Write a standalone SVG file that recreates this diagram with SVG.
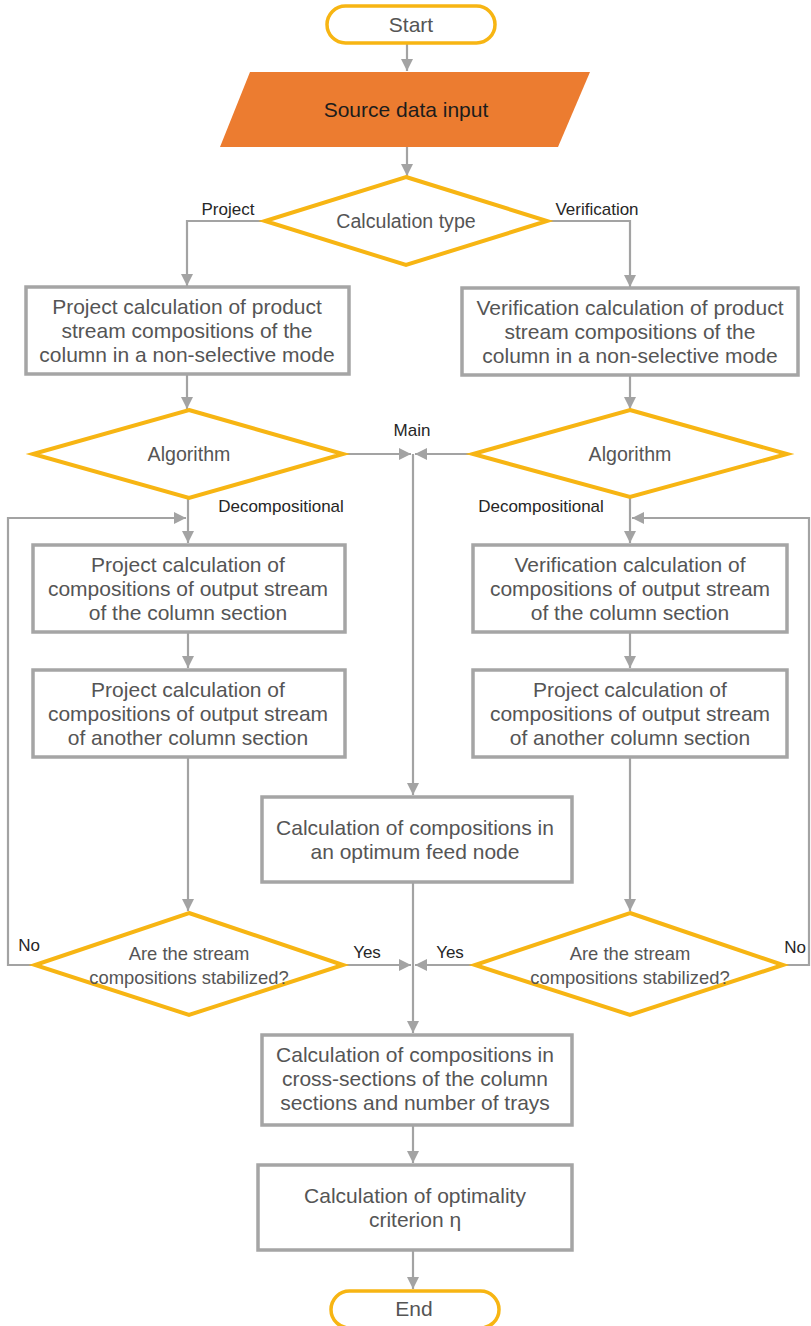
<svg xmlns="http://www.w3.org/2000/svg" width="811" height="1326" viewBox="0 0 811 1326">
  <defs>
    <marker id="arr" viewBox="0 0 12 12" refX="12" refY="6" markerWidth="12" markerHeight="12" markerUnits="userSpaceOnUse" orient="auto">
      <path d="M0,0 L12,6 L0,12 Z" fill="#a3a3a3"/>
    </marker>
    <style>
      .box { fill: #ffffff; stroke: #a5a5a5; stroke-width: 3.5; }
      .dia { fill: #ffffff; stroke: #f7b513; stroke-width: 4; stroke-linejoin: miter; }
      .pill { fill: #ffffff; stroke: #f7b513; stroke-width: 3.5; }
      .t { font-family: "Liberation Sans", Arial, sans-serif; font-size: 21px; fill: #555555; text-anchor: middle; }
      .d { font-family: "Liberation Sans", Arial, sans-serif; font-size: 18.4px; fill: #555555; text-anchor: middle; }
      .d1 { font-family: "Liberation Sans", Arial, sans-serif; font-size: 19.6px; fill: #555555; text-anchor: middle; }
      .lbl { font-family: "Liberation Sans", Arial, sans-serif; font-size: 17px; fill: #262626; text-anchor: middle; }
      .la { fill: none; stroke: #a3a3a3; stroke-width: 2.2; marker-end: url(#arr); }
    </style>
  </defs>
  <rect width="811" height="1326" fill="#ffffff"/>

  <!-- connectors -->
  <g id="connectors">
    <line class="la" x1="407" y1="43" x2="407" y2="71"/>
    <line class="la" x1="407" y1="147" x2="407" y2="176"/>
    <polyline class="la" points="265,221 187,221 187,286"/>
    <polyline class="la" points="547,221 630,221 630,287"/>
    <line class="la" x1="187" y1="374" x2="187" y2="409"/>
    <line class="la" x1="630" y1="375" x2="630" y2="409"/>
    <line class="la" x1="343" y1="454" x2="411" y2="454"/>
    <line class="la" x1="473" y1="454" x2="415" y2="454"/>
    <line class="la" x1="413" y1="454" x2="413" y2="795"/>
    <line class="la" x1="188" y1="498" x2="188" y2="543"/>
    <line class="la" x1="630" y1="497" x2="630" y2="543"/>
    <polyline class="la" points="35,965 8,965 8,518 186,518"/>
    <polyline class="la" points="783,965 809,965 809,518 632,518"/>
    <line class="la" x1="188" y1="632" x2="188" y2="668"/>
    <line class="la" x1="630" y1="632" x2="630" y2="668"/>
    <line class="la" x1="188" y1="757" x2="188" y2="911"/>
    <line class="la" x1="630" y1="757" x2="630" y2="911"/>
    <line class="la" x1="343" y1="965" x2="411" y2="965"/>
    <line class="la" x1="475" y1="965" x2="415" y2="965"/>
    <line class="la" x1="413" y1="882" x2="413" y2="1033"/>
    <line class="la" x1="413" y1="1125" x2="413" y2="1163"/>
    <line class="la" x1="413" y1="1250" x2="413" y2="1289"/>
  </g>

  <!-- branch labels -->
  <g id="labels">
    <text class="lbl" x="228" y="215">Project</text>
    <text class="lbl" x="597" y="215">Verification</text>
    <text class="lbl" x="412" y="436">Main</text>
    <text class="lbl" x="281" y="512">Decompositional</text>
    <text class="lbl" x="541" y="512">Decompositional</text>
    <text class="lbl" x="29" y="951">No</text>
    <text class="lbl" x="367" y="958">Yes</text>
    <text class="lbl" x="450" y="958">Yes</text>
    <text class="lbl" x="795" y="953">No</text>
  </g>

  <g id="start">
    <rect class="pill" x="327" y="6" width="168" height="37" rx="18.5"/>
    <text class="t" x="411" y="31.5">Start</text>
  </g>

  <g id="source-input">
    <polygon points="250,72 590,72 558,147 220,147" fill="#ec7c30"/>
    <text class="t" x="406" y="117" style="fill:#1c1c1c">Source data input</text>
  </g>

  <g id="calc-type">
    <polygon class="dia" points="406,177 547,221 406,265 265,221"/>
    <text class="d1" x="406" y="228">Calculation type</text>
  </g>

  <g id="project-product">
    <rect class="box" x="26" y="287" width="323" height="87"/>
    <text class="t" x="187" y="314">Project calculation of product</text>
    <text class="t" x="187" y="338">stream compositions of the</text>
    <text class="t" x="187" y="362">column in a non-selective mode</text>
  </g>

  <g id="verification-product">
    <rect class="box" x="462" y="288" width="336" height="87"/>
    <text class="t" x="630" y="315">Verification calculation of product</text>
    <text class="t" x="630" y="339">stream compositions of the</text>
    <text class="t" x="630" y="363">column in a non-selective mode</text>
  </g>

  <g id="algorithm-left">
    <polygon class="dia" points="189,410 343,454 189,498 33,454"/>
    <text class="d1" x="189" y="461">Algorithm</text>
  </g>

  <g id="algorithm-right">
    <polygon class="dia" points="630,410 787,454 630,497 473,454"/>
    <text class="d1" x="630" y="461">Algorithm</text>
  </g>

  <g id="project-section">
    <rect class="box" x="33" y="545" width="312" height="87"/>
    <text class="t" x="188" y="572">Project calculation of</text>
    <text class="t" x="188" y="596">compositions of output stream</text>
    <text class="t" x="188" y="620">of the column section</text>
  </g>

  <g id="project-another-left">
    <rect class="box" x="33" y="670" width="312" height="87"/>
    <text class="t" x="188" y="697">Project calculation of</text>
    <text class="t" x="188" y="721">compositions of output stream</text>
    <text class="t" x="188" y="745">of another column section</text>
  </g>

  <g id="verification-section">
    <rect class="box" x="473" y="545" width="314" height="87"/>
    <text class="t" x="630" y="572">Verification calculation of</text>
    <text class="t" x="630" y="596">compositions of output stream</text>
    <text class="t" x="630" y="620">of the column section</text>
  </g>

  <g id="project-another-right">
    <rect class="box" x="473" y="670" width="314" height="87"/>
    <text class="t" x="630" y="697">Project calculation of</text>
    <text class="t" x="630" y="721">compositions of output stream</text>
    <text class="t" x="630" y="745">of another column section</text>
  </g>

  <g id="feed-node">
    <rect class="box" x="262" y="797" width="310" height="85"/>
    <text class="t" x="415" y="835">Calculation of compositions in</text>
    <text class="t" x="415" y="859">an optimum feed node</text>
  </g>

  <g id="stabilized-left">
    <polygon class="dia" points="189,913 343,965 189,1015 35,965"/>
    <text class="d" x="189" y="960">Are the stream</text>
    <text class="d" x="189" y="984">compositions stabilized?</text>
  </g>

  <g id="stabilized-right">
    <polygon class="dia" points="630,913 783,965 630,1015 475,965"/>
    <text class="d" x="630" y="960">Are the stream</text>
    <text class="d" x="630" y="984">compositions stabilized?</text>
  </g>

  <g id="cross-sections">
    <rect class="box" x="262" y="1035" width="310" height="90"/>
    <text class="t" x="415" y="1062">Calculation of compositions in</text>
    <text class="t" x="415" y="1086">cross-sections of the column</text>
    <text class="t" x="415" y="1110">sections and number of trays</text>
  </g>

  <g id="optimality">
    <rect class="box" x="258" y="1165" width="314" height="85"/>
    <text class="t" x="415" y="1203">Calculation of optimality</text>
    <text class="t" x="415" y="1227">criterion η</text>
  </g>

  <g id="end">
    <rect class="pill" x="331" y="1291" width="168" height="37" rx="18.5"/>
    <text class="t" x="414" y="1316">End</text>
  </g>
</svg>
